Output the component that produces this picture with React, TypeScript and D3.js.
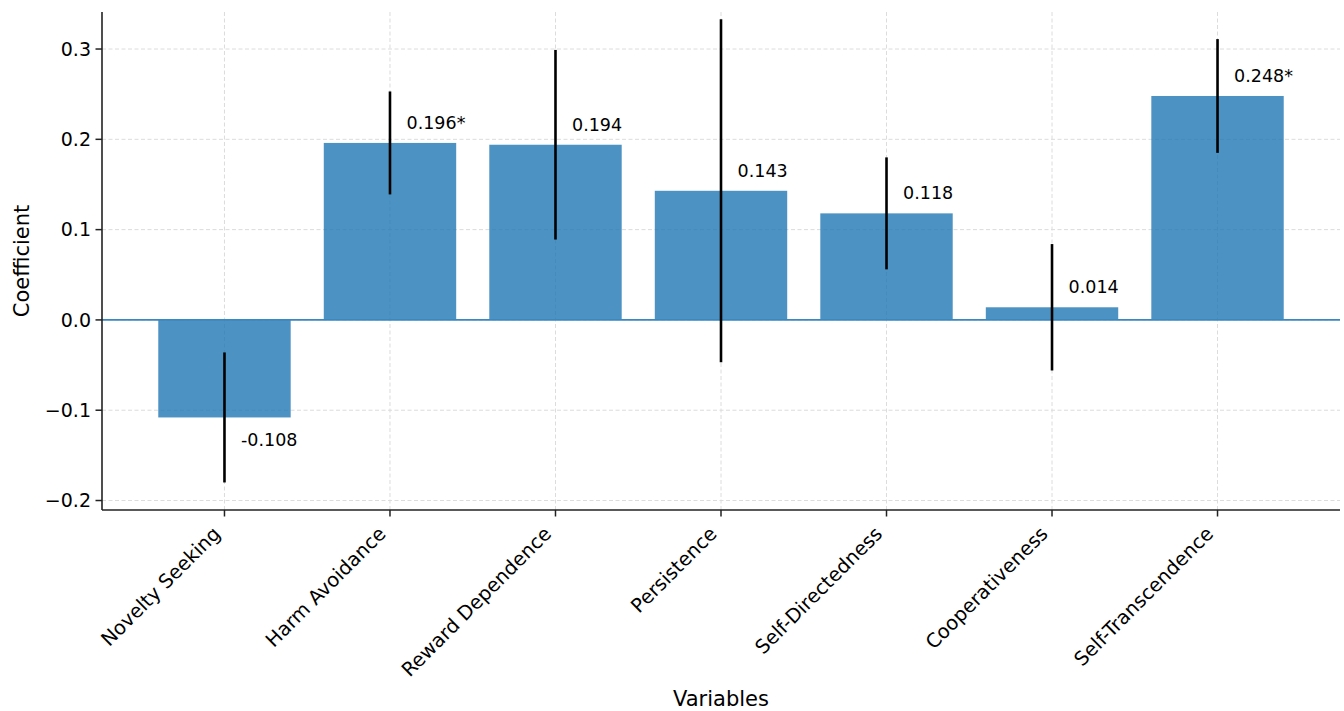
import React from "react";
import * as d3 from "d3";

const categories = ["Novelty Seeking", "Harm Avoidance", "Reward Dependence", "Persistence", "Self-Directedness", "Cooperativeness", "Self-Transcendence"];
const coefficients = [-0.108, 0.196, 0.194, 0.143, 0.118, 0.014, 0.248];
const errors = [0.072, 0.057, 0.105, 0.19, 0.062, 0.07, 0.063];
const labels = ["-0.108", "0.196*", "0.194", "0.143", "0.118", "0.014", "0.248*"];
const yTicks = [-0.2, -0.1, 0.0, 0.1, 0.2, 0.3];

const W = 1344, H = 711;
const left = 102, right = 1340, top = 12, bottom = 510;
const FONT = "DejaVu Sans, sans-serif";

export default function App() {
  const x = d3.scaleLinear().domain([-0.74, categories.length - 1 + 0.74]).range([left, right]);
  const y = d3.scaleLinear().domain([-0.2105, 0.341]).range([bottom, top]);
  const bw = x(0.8) - x(0);
  const barColor = "rgba(31,119,180,0.8)";
  return (
    <svg width={W} height={H} style={{ position: "absolute", left: 0, top: 0, background: "#fff" }}>
      {/* grid */}
      {yTicks.map((t) => (
        <line key={"gy" + t} x1={left} x2={right} y1={y(t)} y2={y(t)} stroke="#dcdcdc" strokeWidth={1} strokeDasharray="4,2.5" />
      ))}
      {categories.map((c, i) => (
        <line key={"gx" + i} x1={x(i)} x2={x(i)} y1={top} y2={bottom} stroke="#dcdcdc" strokeWidth={1} strokeDasharray="4,2.5" />
      ))}
      {/* bars */}
      {coefficients.map((v, i) => (
        <rect key={"b" + i} x={x(i) - bw / 2} width={bw} y={Math.min(y(v), y(0))} height={Math.abs(y(v) - y(0))} fill={barColor} />
      ))}
      {/* zero line */}
      <line x1={left} x2={right} y1={y(0)} y2={y(0)} stroke="#3a88c2" strokeWidth={1.6} />
      {/* error bars */}
      {coefficients.map((v, i) => (
        <line key={"e" + i} x1={x(i)} x2={x(i)} y1={y(v - errors[i])} y2={y(v + errors[i])} stroke="#000" strokeWidth={2.6} />
      ))}
      {/* value labels */}
      {coefficients.map((v, i) => (
        <text key={"l" + i} x={x(i + 0.1)} y={v >= 0 ? y(v) - 14 : y(v) + 29} fontFamily={FONT} fontSize={17.5} fill="#000">
          {labels[i]}
        </text>
      ))}
      {/* spines */}
      <line x1={left} x2={left} y1={top} y2={bottom} stroke="#222" strokeWidth={1.6} />
      <line x1={left} x2={right} y1={bottom} y2={bottom} stroke="#222" strokeWidth={1.6} />
      {/* y ticks */}
      {yTicks.map((t) => (
        <g key={"yt" + t}>
          <line x1={left - 6.5} x2={left} y1={y(t)} y2={y(t)} stroke="#222" strokeWidth={1.5} />
          <text x={left - 11} y={y(t)} dy="0.36em" textAnchor="end" fontFamily={FONT} fontSize={19} fill="#000">
            {t < 0 ? "\u2212" + Math.abs(t).toFixed(1) : t.toFixed(1)}
          </text>
        </g>
      ))}
      {/* x ticks */}
      {categories.map((c, i) => (
        <g key={"xt" + i}>
          <line x1={x(i)} x2={x(i)} y1={bottom} y2={bottom + 6.5} stroke="#222" strokeWidth={1.5} />
          <text transform={`translate(${x(i) - 3},${bottom + 25}) rotate(-45)`} textAnchor="end" fontFamily={FONT} fontSize={19.5} fill="#000">
            {c}
          </text>
        </g>
      ))}
      {/* axis labels */}
      <text x={(left + right) / 2} y={706} textAnchor="middle" fontFamily={FONT} fontSize={21} fill="#000">Variables</text>
      <text transform={`translate(29,${(top + bottom) / 2}) rotate(-90)`} textAnchor="middle" fontFamily={FONT} fontSize={21} fill="#000">Coefficient</text>
    </svg>
  );
}
